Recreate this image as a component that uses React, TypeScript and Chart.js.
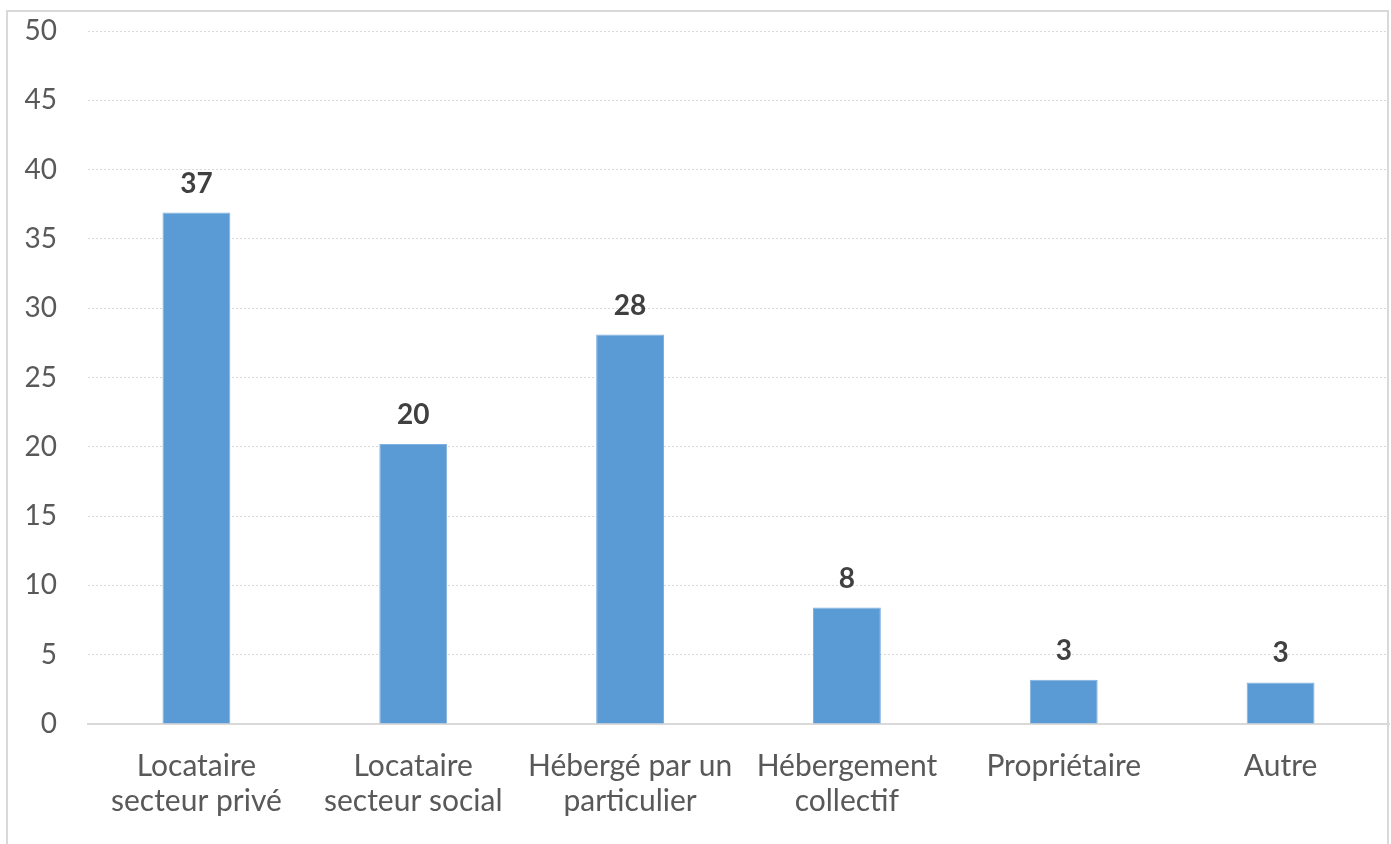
import React, { useEffect, useRef } from "react";
import { Chart, registerables } from "chart.js";

Chart.register(...registerables);

const categories: string[][] = [
  ["Locataire", "secteur privé"],
  ["Locataire", "secteur social"],
  ["Hébergé par un", "particulier"],
  ["Hébergement", "collectif"],
  ["Propriétaire"],
  ["Autre"],
];
const values: number[] = [36.9, 20.2, 28.1, 8.4, 3.2, 3.0];
const yMin = 0;
const yMax = 50;
const yStep = 5;

const FONT = "Lato, 'Open Sans', sans-serif";

const framePlugin = {
  id: "frame",
  beforeDraw(chart: any) {
    const ctx = chart.ctx;
    ctx.save();
    ctx.fillStyle = "#ffffff";
    ctx.fillRect(0, 0, chart.width, chart.height);
    ctx.strokeStyle = "#d9d9d9";
    ctx.lineWidth = 2;
    ctx.strokeRect(7, 11, 1381, 900);
    ctx.restore();
  },
};

const valueLabelPlugin = {
  id: "valueLabels",
  afterDatasetsDraw(chart: any) {
    const ctx = chart.ctx;
    const meta = chart.getDatasetMeta(0);
    ctx.save();
    ctx.font = `bold 28px ${FONT}`;
    ctx.fillStyle = "#404040";
    ctx.textAlign = "center";
    ctx.textBaseline = "middle";
    meta.data.forEach((bar: any, i: number) => {
      const v = chart.data.datasets[0].data[i] as number;
      ctx.fillText(String(Math.round(v)), bar.x, bar.y - 29);
    });
    ctx.restore();
  },
};

export default function App() {
  const ref = useRef<HTMLCanvasElement>(null);
  useEffect(() => {
    if (!ref.current) return;
    const chart = new Chart(ref.current, {
      type: "bar",
      data: {
        labels: categories,
        datasets: [
          {
            data: values,
            backgroundColor: "#5B9BD5",
            borderColor: "#7fb0de",
            borderWidth: 1,
            barPercentage: 0.313,
            categoryPercentage: 1,
          },
        ],
      },
      options: {
        responsive: false,
        animation: false,
        layout: { padding: { top: 31, right: 2, left: 0, bottom: 0 } },
        plugins: {
          legend: { display: false },
          tooltip: { enabled: false },
        },
        scales: {
          x: {
            grid: { display: false, drawTicks: false },
            border: { display: true, color: "#d9d9d9", width: 2 },
            ticks: {
              color: "#595959",
              font: { family: FONT, size: 30, lineHeight: 1.17 },
              padding: 25,
              maxRotation: 0,
              autoSkip: false,
            },
            afterFit(scale: any) {
              scale.height = 120;
            },
          },
          y: {
            min: yMin,
            max: yMax,
            grid: {
              color: "#d9d9d9",
              lineWidth: 1,
              drawTicks: true,
              tickLength: 31,
              tickColor: "rgba(0,0,0,0)",
            },
            border: { display: false, dash: [2, 2] },
            ticks: {
              stepSize: yStep,
              color: "#595959",
              font: { family: FONT, size: 28 },
              padding: 0,
            },
            afterFit(scale: any) {
              scale.width = 88;
            },
          },
        },
      },
      plugins: [framePlugin, valueLabelPlugin],
    });
    return () => chart.destroy();
  }, []);
  return (
    <div style={{ position: "fixed", left: 0, top: 0, width: 1391, height: 844 }}>
      <canvas ref={ref} width={1391} height={844} />
    </div>
  );
}
